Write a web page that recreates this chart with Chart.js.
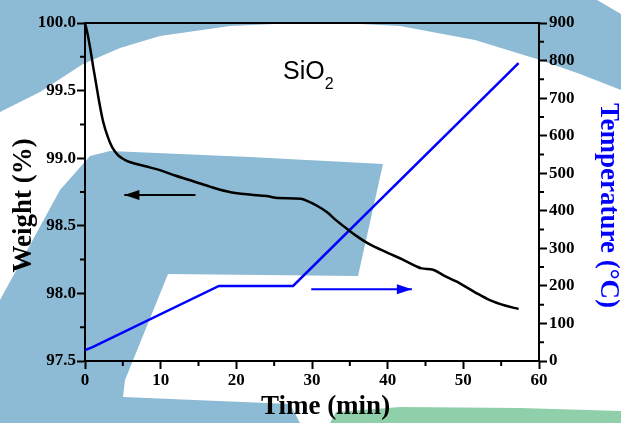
<!DOCTYPE html>
<html>
<head>
<meta charset="utf-8">
<script src="https://cdn.jsdelivr.net/npm/chart.js@4/dist/chart.umd.min.js"></script>
<style>
  html, body { margin: 0; padding: 0; background: #ffffff; }
  #wrap { width: 621px; height: 423px; }
</style>
</head>
<body>
<div id="wrap"><canvas id="tga" width="621" height="423"></canvas></div>
<script>
// TGA data
const weightTime = [0, 0.3, 0.7, 1.1, 1.5, 1.8, 2.4, 3.0, 3.6, 4.4, 5.2, 6.0, 8.0, 10.0, 12.0, 14.3, 16.5, 18.7, 20.1, 22.0, 24.0, 25.5, 28.5, 29.5, 30.6, 32.0, 33.2, 34.8, 36.0, 37.4, 40.0, 42.0, 43.8, 44.5, 46.0, 47.5, 49.0, 51.5, 53.5, 55.5, 57.3];
const weightValues = [100.0, 99.93, 99.81, 99.67, 99.54, 99.44, 99.27, 99.16, 99.08, 99.02, 98.99, 98.97, 98.94, 98.91, 98.87, 98.83, 98.79, 98.755, 98.74, 98.73, 98.72, 98.705, 98.70, 98.68, 98.65, 98.60, 98.54, 98.47, 98.42, 98.37, 98.30, 98.25, 98.20, 98.185, 98.175, 98.13, 98.09, 98.01, 97.95, 97.91, 97.885];

const tempTime = [0, 1, 17.7, 27.5, 57.3];
const tempValues = [29, 37, 200, 200, 793];

// arrows: [tail, tip]
const weightArrowTime = [14.6, 5.2];
const weightArrowValue = [98.728, 98.728];
const tempArrowTime = [29.9, 43.2];
const tempArrowValue = [191, 191];

const xTicks = [0, 10, 20, 30, 40, 50, 60];
const weightTicks = [97.5, 98.0, 98.5, 99.0, 99.5, 100.0];
const tempTicks = [0, 100, 200, 300, 400, 500, 600, 700, 800, 900];

const BLUE = '#0000ff';
const NB = '\u00a0';
const tickFont = { family: '"Liberation Serif", "Times New Roman", serif', weight: 'bold', size: 17 };
const titleFont = { family: '"Liberation Serif", "Times New Roman", serif', weight: 'bold', size: 27, lineHeight: 1 };

const toPoints = (xs, ys) => xs.map((x, i) => ({ x: x, y: ys[i] }));

// light watermark behind the figure
const watermark = {
    id: 'watermark',
    beforeDraw(chart) {
        const ctx = chart.ctx;
        const poly = (pts, color) => {
            ctx.beginPath();
            ctx.moveTo(pts[0][0], pts[0][1]);
            pts.slice(1).forEach(p => ctx.lineTo(p[0], p[1]));
            ctx.closePath();
            ctx.fillStyle = color;
            ctx.fill();
        };
        ctx.save();
        ctx.fillStyle = '#ffffff';
        ctx.fillRect(0, 0, chart.width, chart.height);
        poly([[0, 0], [597, 0], [621, 14], [621, 90], [580, 74], [540, 60], [475, 40], [400, 26], [320, 22], [230, 26], [160, 36], [120, 48], [83, 64], [40, 92], [0, 112]], '#8dbad4');
        poly([[0, 300], [60, 190], [90, 156], [110, 151], [250, 157], [383, 164], [358, 276], [168, 274], [125, 380], [123, 397], [290, 404], [300, 423], [0, 423]], '#8dbad4');
        poly([[330, 423], [336, 412], [400, 407], [520, 408], [621, 411], [621, 423]], '#8fcfaa');
        ctx.restore();
    }
};

// frame top line, minor ticks, arrow heads and the sample label
const decorations = {
    id: 'decorations',
    afterDraw(chart) {
        const ctx = chart.ctx;
        const { left, right, top, bottom } = chart.chartArea;
        const sx = chart.scales.x, sy = chart.scales.y, sy1 = chart.scales.y1;
        ctx.save();
        ctx.strokeStyle = '#000000';
        ctx.lineWidth = 2;
        ctx.beginPath();
        ctx.moveTo(left - 1, top);
        ctx.lineTo(right + 1, top);
        ctx.stroke();

        ctx.beginPath();
        for (let v = 5; v < 60; v += 10) {
            const px = sx.getPixelForValue(v);
            ctx.moveTo(px, bottom);
            ctx.lineTo(px, bottom + 5);
        }
        for (let v = 97.75; v < 100; v += 0.5) {
            const py = sy.getPixelForValue(v);
            ctx.moveTo(left, py);
            ctx.lineTo(left - 5, py);
        }
        for (let v = 50; v < 900; v += 100) {
            const py = sy1.getPixelForValue(v);
            ctx.moveTo(right, py);
            ctx.lineTo(right + 5, py);
        }
        ctx.stroke();

        // arrow heads at the last point of the arrow datasets
        chart.data.datasets.forEach((ds, i) => {
            if (!ds.arrow) return;
            const pts = chart.getDatasetMeta(i).data;
            const a = pts[pts.length - 2], b = pts[pts.length - 1];
            const ang = Math.atan2(b.y - a.y, b.x - a.x);
            const len = 15, half = 5;
            ctx.save();
            ctx.translate(b.x, b.y);
            ctx.rotate(ang);
            ctx.beginPath();
            ctx.moveTo(0, 0);
            ctx.lineTo(-len, -half);
            ctx.lineTo(-len, half);
            ctx.closePath();
            ctx.fillStyle = ds.borderColor;
            ctx.fill();
            ctx.restore();
        });

        ctx.fillStyle = '#000000';
        ctx.font = '25px "Liberation Sans", Arial, sans-serif';
        ctx.textBaseline = 'alphabetic';
        ctx.fillText('SiO', 283, 79);
        const w = ctx.measureText('SiO').width;
        ctx.font = '16px "Liberation Sans", Arial, sans-serif';
        ctx.fillText('2', 283 + w, 89);
        ctx.restore();
    }
};

new Chart(document.getElementById('tga'), {
    type: 'line',
    data: {
        datasets: [
            {
                label: 'Weight',
                data: toPoints(weightTime, weightValues),
                yAxisID: 'y',
                borderColor: '#000000',
                borderWidth: 2.5,
                pointRadius: 0,
                cubicInterpolationMode: 'monotone'
            },
            {
                label: 'Temperature',
                data: toPoints(tempTime, tempValues),
                yAxisID: 'y1',
                borderColor: BLUE,
                borderWidth: 2.5,
                pointRadius: 0,
                tension: 0
            },
            {
                label: 'weightArrow',
                arrow: true,
                data: toPoints(weightArrowTime, weightArrowValue),
                yAxisID: 'y',
                borderColor: '#000000',
                borderWidth: 2,
                pointRadius: 0
            },
            {
                label: 'tempArrow',
                arrow: true,
                data: toPoints(tempArrowTime, tempArrowValue),
                yAxisID: 'y1',
                borderColor: BLUE,
                borderWidth: 2,
                pointRadius: 0
            }
        ]
    },
    options: {
        responsive: false,
        animation: false,
        layout: { padding: { top: 23, left: 0, right: 0, bottom: 0 } },
        plugins: {
            legend: { display: false },
            tooltip: { enabled: false }
        },
        scales: {
            x: {
                type: 'linear',
                position: 'bottom',
                min: 0,
                max: 60,
                afterBuildTicks: (scale) => { scale.ticks = xTicks.map(v => ({ value: v })); },
                afterFit: (scale) => { scale.height = 62; },
                border: { color: '#000000', width: 2 },
                grid: { drawOnChartArea: false, tickLength: 8, tickWidth: 2, tickColor: '#000000' },
                ticks: { color: '#000000', font: tickFont, padding: 1, maxRotation: 0 },
                // leading spaces nudge the title right like the original
                title: { display: true, text: NB.repeat(4) + 'Time (min)', color: '#000000', font: titleFont, padding: { top: 2, bottom: 2 } }
            },
            y: {
                position: 'left',
                min: 97.5,
                max: 100.0,
                afterBuildTicks: (scale) => { scale.ticks = weightTicks.map(v => ({ value: v })); },
                afterFit: (scale) => { scale.width = 85; },
                border: { color: '#000000', width: 2 },
                grid: { drawOnChartArea: false, tickLength: 8, tickWidth: 2, tickColor: '#000000' },
                ticks: { color: '#000000', font: tickFont, padding: 1, callback: (v) => v.toFixed(1) },
                title: { display: true, text: 'Weight (%)' + NB.repeat(4), color: '#000000', font: titleFont, padding: { top: 11, bottom: 11 } }
            },
            y1: {
                position: 'right',
                min: 0,
                max: 900,
                afterBuildTicks: (scale) => { scale.ticks = tempTicks.map(v => ({ value: v })); },
                afterFit: (scale) => { scale.width = 82; },
                border: { color: '#000000', width: 2 },
                grid: { drawOnChartArea: false, tickLength: 8, tickWidth: 2, tickColor: '#000000' },
                ticks: { color: '#000000', font: tickFont, padding: 2 },
                title: { display: true, text: NB.repeat(4) + 'Temperature (°C)', color: BLUE, font: titleFont, padding: { top: 0, bottom: 0 } }
            }
        }
    },
    plugins: [watermark, decorations]
});
</script>
</body>
</html>
